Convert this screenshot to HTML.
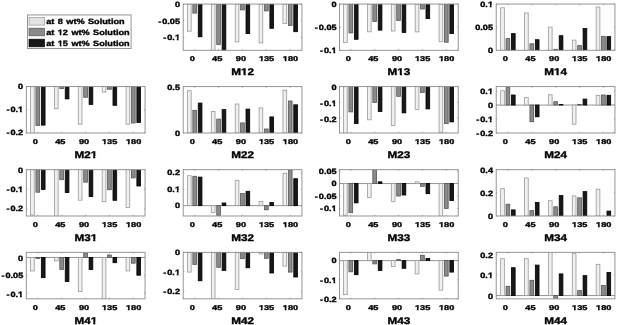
<!DOCTYPE html>
<html><head><meta charset="utf-8"><title>Mueller matrix bar charts</title>
<style>html,body{margin:0;padding:0;background:#fff;width:617px;height:325px;overflow:hidden}svg{display:block;font-family:"Liberation Sans",sans-serif;will-change:transform}</style></head>
<body>
<svg width="617" height="325" viewBox="0 0 617 325" font-family="Liberation Sans, sans-serif" font-weight="bold" text-rendering="geometricPrecision">
<rect width="617" height="325" fill="#fff"/>
<clipPath id="cM12"><rect x="183.2" y="4.05" width="118.75" height="46.25"/></clipPath>
<g clip-path="url(#cM12)">
<rect x="187.45" y="4.05" width="3.7" height="27.15" fill="#f0f0f0" stroke="#999999" stroke-width="0.8"/>
<rect x="192.85" y="4.05" width="3.7" height="9.05" fill="#8a8a8a" stroke="#555555" stroke-width="0.8"/>
<rect x="198.25" y="4.05" width="3.7" height="32.75" fill="#181818" stroke="#000000" stroke-width="0.8"/>
<rect x="211.33" y="4.05" width="3.7" height="94.95" fill="#f0f0f0" stroke="#999999" stroke-width="0.8"/>
<rect x="216.73" y="4.05" width="3.7" height="40.45" fill="#8a8a8a" stroke="#555555" stroke-width="0.8"/>
<rect x="222.13" y="4.05" width="3.7" height="94.95" fill="#181818" stroke="#000000" stroke-width="0.8"/>
<rect x="235.21" y="4.05" width="3.7" height="37.85" fill="#f0f0f0" stroke="#999999" stroke-width="0.8"/>
<rect x="240.61" y="4.05" width="3.7" height="5.85" fill="#8a8a8a" stroke="#555555" stroke-width="0.8"/>
<rect x="246.01" y="4.05" width="3.7" height="29.55" fill="#181818" stroke="#000000" stroke-width="0.8"/>
<rect x="259.09" y="4.05" width="3.7" height="38.85" fill="#f0f0f0" stroke="#999999" stroke-width="0.8"/>
<rect x="264.49" y="4.05" width="3.7" height="6.85" fill="#8a8a8a" stroke="#555555" stroke-width="0.8"/>
<rect x="269.89" y="4.05" width="3.7" height="24.25" fill="#181818" stroke="#000000" stroke-width="0.8"/>
<rect x="282.97" y="4.05" width="3.7" height="19.45" fill="#f0f0f0" stroke="#999999" stroke-width="0.8"/>
<rect x="288.37" y="4.05" width="3.7" height="21.55" fill="#8a8a8a" stroke="#555555" stroke-width="0.8"/>
<rect x="293.77" y="4.05" width="3.7" height="27.65" fill="#181818" stroke="#000000" stroke-width="0.8"/>
</g>
<rect x="183.2" y="4.05" width="118.75" height="46.25" fill="none" stroke="#8a8a8a" stroke-width="0.9"/>
<path d="M194.7 50.3v-1.2M194.7 4.05v1.2" stroke="#8a8a8a" stroke-width="0.7"/>
<path d="M218.58 50.3v-1.2M218.58 4.05v1.2" stroke="#8a8a8a" stroke-width="0.7"/>
<path d="M242.46 50.3v-1.2M242.46 4.05v1.2" stroke="#8a8a8a" stroke-width="0.7"/>
<path d="M266.34 50.3v-1.2M266.34 4.05v1.2" stroke="#8a8a8a" stroke-width="0.7"/>
<path d="M290.22 50.3v-1.2M290.22 4.05v1.2" stroke="#8a8a8a" stroke-width="0.7"/>
<path d="M183.2 4.05h1.2M301.95 4.05h-1.2" stroke="#8a8a8a" stroke-width="0.7"/>
<text transform="translate(180 6.85) scale(1.205 1)" font-size="7.6" text-anchor="end" fill="#000" stroke="#000" stroke-width="0.35">0</text>
<path d="M183.2 20.69h1.2M301.95 20.69h-1.2" stroke="#8a8a8a" stroke-width="0.7"/>
<text transform="translate(180 23.55) scale(1.205 1)" font-size="7.6" text-anchor="end" fill="#000" stroke="#000" stroke-width="0.35">-<tspan dx="0.8">0.05</tspan></text>
<path d="M183.2 37.32h1.2M301.95 37.32h-1.2" stroke="#8a8a8a" stroke-width="0.7"/>
<text transform="translate(180 39.85) scale(1.205 1)" font-size="7.6" text-anchor="end" fill="#000" stroke="#000" stroke-width="0.35">-<tspan dx="0.8">0.1</tspan></text><rect x="174.74" y="38.33" width="2.04" height="2.72" fill="#fff"/><rect x="178.56" y="38.33" width="1.78" height="2.72" fill="#fff"/>
<text transform="translate(192.2 61.3) scale(1.31 1)" font-size="7" text-anchor="middle" fill="#000" stroke="#000" stroke-width="0.35">0</text>
<text transform="translate(217.18 61.3) scale(1.31 1)" font-size="7" text-anchor="middle" fill="#000" stroke="#000" stroke-width="0.35">45</text>
<text transform="translate(240.96 61.3) scale(1.31 1)" font-size="7" text-anchor="middle" fill="#000" stroke="#000" stroke-width="0.35">90</text>
<text transform="translate(266.54 61.3) scale(1.31 1)" font-size="7" text-anchor="middle" fill="#000" stroke="#000" stroke-width="0.35">135</text><rect x="258.71" y="59.84" width="2.05" height="2.64" fill="#fff"/><rect x="262.56" y="59.84" width="1.35" height="2.64" fill="#fff"/>
<text transform="translate(290.52 61.3) scale(1.31 1)" font-size="7" text-anchor="middle" fill="#000" stroke="#000" stroke-width="0.35">180</text><rect x="282.69" y="59.84" width="2.05" height="2.64" fill="#fff"/><rect x="286.54" y="59.84" width="1.44" height="2.64" fill="#fff"/>
<text transform="translate(242.72 75.1) scale(1.21 1)" font-size="9.7" text-anchor="middle" fill="#000" stroke="#000" stroke-width="0.35">M12</text><rect x="241.03" y="73.36" width="2.52" height="3.00" fill="#fff"/><rect x="245.70" y="73.36" width="2.02" height="3.00" fill="#fff"/>
<clipPath id="cM13"><rect x="339.46" y="4.05" width="118.75" height="46.25"/></clipPath>
<g clip-path="url(#cM13)">
<rect x="343.55" y="4.05" width="3.7" height="38.45" fill="#f0f0f0" stroke="#999999" stroke-width="0.8"/>
<rect x="348.95" y="4.05" width="3.7" height="28.85" fill="#8a8a8a" stroke="#555555" stroke-width="0.8"/>
<rect x="354.35" y="4.05" width="3.7" height="35.25" fill="#181818" stroke="#000000" stroke-width="0.8"/>
<rect x="367.43" y="4.05" width="3.7" height="27.75" fill="#f0f0f0" stroke="#999999" stroke-width="0.8"/>
<rect x="372.83" y="4.05" width="3.7" height="17.55" fill="#8a8a8a" stroke="#555555" stroke-width="0.8"/>
<rect x="378.23" y="4.05" width="3.7" height="26.05" fill="#181818" stroke="#000000" stroke-width="0.8"/>
<rect x="391.31" y="4.05" width="3.7" height="26.95" fill="#f0f0f0" stroke="#999999" stroke-width="0.8"/>
<rect x="396.71" y="4.05" width="3.7" height="16.45" fill="#8a8a8a" stroke="#555555" stroke-width="0.8"/>
<rect x="402.11" y="4.05" width="3.7" height="28.35" fill="#181818" stroke="#000000" stroke-width="0.8"/>
<rect x="415.19" y="4.05" width="3.7" height="27.85" fill="#f0f0f0" stroke="#999999" stroke-width="0.8"/>
<rect x="420.59" y="4.05" width="3.7" height="4.95" fill="#8a8a8a" stroke="#555555" stroke-width="0.8"/>
<rect x="425.99" y="4.05" width="3.7" height="14.55" fill="#181818" stroke="#000000" stroke-width="0.8"/>
<rect x="439.07" y="4.05" width="3.7" height="37.65" fill="#f0f0f0" stroke="#999999" stroke-width="0.8"/>
<rect x="444.47" y="4.05" width="3.7" height="38.15" fill="#8a8a8a" stroke="#555555" stroke-width="0.8"/>
<rect x="449.87" y="4.05" width="3.7" height="29.55" fill="#181818" stroke="#000000" stroke-width="0.8"/>
</g>
<rect x="339.46" y="4.05" width="118.75" height="46.25" fill="none" stroke="#8a8a8a" stroke-width="0.9"/>
<path d="M350.8 50.3v-1.2M350.8 4.05v1.2" stroke="#8a8a8a" stroke-width="0.7"/>
<path d="M374.68 50.3v-1.2M374.68 4.05v1.2" stroke="#8a8a8a" stroke-width="0.7"/>
<path d="M398.56 50.3v-1.2M398.56 4.05v1.2" stroke="#8a8a8a" stroke-width="0.7"/>
<path d="M422.44 50.3v-1.2M422.44 4.05v1.2" stroke="#8a8a8a" stroke-width="0.7"/>
<path d="M446.32 50.3v-1.2M446.32 4.05v1.2" stroke="#8a8a8a" stroke-width="0.7"/>
<path d="M339.46 4.05h1.2M458.21 4.05h-1.2" stroke="#8a8a8a" stroke-width="0.7"/>
<text transform="translate(336.66 6.55) scale(1.205 1)" font-size="7.6" text-anchor="end" fill="#000" stroke="#000" stroke-width="0.35">0</text>
<path d="M339.46 27.18h1.2M458.21 27.18h-1.2" stroke="#8a8a8a" stroke-width="0.7"/>
<text transform="translate(336.66 29.85) scale(1.205 1)" font-size="7.6" text-anchor="end" fill="#000" stroke="#000" stroke-width="0.35">-<tspan dx="0.8">0.05</tspan></text>
<path d="M339.46 50.3h1.2M458.21 50.3h-1.2" stroke="#8a8a8a" stroke-width="0.7"/>
<text transform="translate(336.66 53.25) scale(1.205 1)" font-size="7.6" text-anchor="end" fill="#000" stroke="#000" stroke-width="0.35">-<tspan dx="0.8">0.1</tspan></text><rect x="331.40" y="51.73" width="2.04" height="2.72" fill="#fff"/><rect x="335.22" y="51.73" width="1.78" height="2.72" fill="#fff"/>
<text transform="translate(348.3 61.3) scale(1.31 1)" font-size="7" text-anchor="middle" fill="#000" stroke="#000" stroke-width="0.35">0</text>
<text transform="translate(373.28 61.3) scale(1.31 1)" font-size="7" text-anchor="middle" fill="#000" stroke="#000" stroke-width="0.35">45</text>
<text transform="translate(397.06 61.3) scale(1.31 1)" font-size="7" text-anchor="middle" fill="#000" stroke="#000" stroke-width="0.35">90</text>
<text transform="translate(422.64 61.3) scale(1.31 1)" font-size="7" text-anchor="middle" fill="#000" stroke="#000" stroke-width="0.35">135</text><rect x="414.81" y="59.84" width="2.05" height="2.64" fill="#fff"/><rect x="418.66" y="59.84" width="1.35" height="2.64" fill="#fff"/>
<text transform="translate(446.62 61.3) scale(1.31 1)" font-size="7" text-anchor="middle" fill="#000" stroke="#000" stroke-width="0.35">180</text><rect x="438.79" y="59.84" width="2.05" height="2.64" fill="#fff"/><rect x="442.64" y="59.84" width="1.44" height="2.64" fill="#fff"/>
<text transform="translate(398.98 75.1) scale(1.21 1)" font-size="9.7" text-anchor="middle" fill="#000" stroke="#000" stroke-width="0.35">M13</text><rect x="397.29" y="73.36" width="2.52" height="3.00" fill="#fff"/><rect x="401.96" y="73.36" width="1.90" height="3.00" fill="#fff"/>
<clipPath id="cM14"><rect x="496.2" y="4.05" width="118.75" height="46.25"/></clipPath>
<g clip-path="url(#cM14)">
<rect x="500.65" y="7.8" width="3.7" height="42.5" fill="#f0f0f0" stroke="#999999" stroke-width="0.8"/>
<rect x="506.05" y="38.6" width="3.7" height="11.7" fill="#8a8a8a" stroke="#555555" stroke-width="0.8"/>
<rect x="511.45" y="33.6" width="3.7" height="16.7" fill="#181818" stroke="#000000" stroke-width="0.8"/>
<rect x="524.53" y="13" width="3.7" height="37.3" fill="#f0f0f0" stroke="#999999" stroke-width="0.8"/>
<rect x="529.93" y="43.8" width="3.7" height="6.5" fill="#8a8a8a" stroke="#555555" stroke-width="0.8"/>
<rect x="535.33" y="39.7" width="3.7" height="10.6" fill="#181818" stroke="#000000" stroke-width="0.8"/>
<rect x="548.41" y="27.1" width="3.7" height="23.2" fill="#f0f0f0" stroke="#999999" stroke-width="0.8"/>
<rect x="553.81" y="49.3" width="3.7" height="1" fill="#8a8a8a" stroke="#555555" stroke-width="0.8"/>
<rect x="559.21" y="35.7" width="3.7" height="14.6" fill="#181818" stroke="#000000" stroke-width="0.8"/>
<rect x="572.29" y="40.1" width="3.7" height="10.2" fill="#f0f0f0" stroke="#999999" stroke-width="0.8"/>
<rect x="577.69" y="45.6" width="3.7" height="4.7" fill="#8a8a8a" stroke="#555555" stroke-width="0.8"/>
<rect x="583.09" y="28.5" width="3.7" height="21.8" fill="#181818" stroke="#000000" stroke-width="0.8"/>
<rect x="596.17" y="7" width="3.7" height="43.3" fill="#f0f0f0" stroke="#999999" stroke-width="0.8"/>
<rect x="601.57" y="36.3" width="3.7" height="14" fill="#8a8a8a" stroke="#555555" stroke-width="0.8"/>
<rect x="606.97" y="36.6" width="3.7" height="13.7" fill="#181818" stroke="#000000" stroke-width="0.8"/>
</g>
<rect x="496.2" y="4.05" width="118.75" height="46.25" fill="none" stroke="#8a8a8a" stroke-width="0.9"/>
<path d="M507.9 50.3v-1.2M507.9 4.05v1.2" stroke="#8a8a8a" stroke-width="0.7"/>
<path d="M531.78 50.3v-1.2M531.78 4.05v1.2" stroke="#8a8a8a" stroke-width="0.7"/>
<path d="M555.66 50.3v-1.2M555.66 4.05v1.2" stroke="#8a8a8a" stroke-width="0.7"/>
<path d="M579.54 50.3v-1.2M579.54 4.05v1.2" stroke="#8a8a8a" stroke-width="0.7"/>
<path d="M603.42 50.3v-1.2M603.42 4.05v1.2" stroke="#8a8a8a" stroke-width="0.7"/>
<path d="M496.2 4.05h1.2M614.95 4.05h-1.2" stroke="#8a8a8a" stroke-width="0.7"/>
<text transform="translate(493 6.65) scale(1.205 1)" font-size="7.6" text-anchor="end" fill="#000" stroke="#000" stroke-width="0.35">0.1</text><rect x="487.74" y="5.13" width="2.04" height="2.72" fill="#fff"/><rect x="491.56" y="5.13" width="1.78" height="2.72" fill="#fff"/>
<path d="M496.2 27.18h1.2M614.95 27.18h-1.2" stroke="#8a8a8a" stroke-width="0.7"/>
<text transform="translate(493 30.15) scale(1.205 1)" font-size="7.6" text-anchor="end" fill="#000" stroke="#000" stroke-width="0.35">0.05</text>
<path d="M496.2 50.3h1.2M614.95 50.3h-1.2" stroke="#8a8a8a" stroke-width="0.7"/>
<text transform="translate(493 52.65) scale(1.205 1)" font-size="7.6" text-anchor="end" fill="#000" stroke="#000" stroke-width="0.35">0</text>
<text transform="translate(505.4 61.3) scale(1.31 1)" font-size="7" text-anchor="middle" fill="#000" stroke="#000" stroke-width="0.35">0</text>
<text transform="translate(530.38 61.3) scale(1.31 1)" font-size="7" text-anchor="middle" fill="#000" stroke="#000" stroke-width="0.35">45</text>
<text transform="translate(554.16 61.3) scale(1.31 1)" font-size="7" text-anchor="middle" fill="#000" stroke="#000" stroke-width="0.35">90</text>
<text transform="translate(579.74 61.3) scale(1.31 1)" font-size="7" text-anchor="middle" fill="#000" stroke="#000" stroke-width="0.35">135</text><rect x="571.91" y="59.84" width="2.05" height="2.64" fill="#fff"/><rect x="575.76" y="59.84" width="1.35" height="2.64" fill="#fff"/>
<text transform="translate(603.72 61.3) scale(1.31 1)" font-size="7" text-anchor="middle" fill="#000" stroke="#000" stroke-width="0.35">180</text><rect x="595.89" y="59.84" width="2.05" height="2.64" fill="#fff"/><rect x="599.74" y="59.84" width="1.44" height="2.64" fill="#fff"/>
<text transform="translate(555.73 75.1) scale(1.21 1)" font-size="9.7" text-anchor="middle" fill="#000" stroke="#000" stroke-width="0.35">M14</text><rect x="554.03" y="73.36" width="2.52" height="3.00" fill="#fff"/><rect x="558.70" y="73.36" width="1.81" height="3.00" fill="#fff"/>
<clipPath id="cM21"><rect x="26.3" y="86.6" width="118.75" height="46.4"/></clipPath>
<g clip-path="url(#cM21)">
<rect x="30.55" y="86.6" width="3.7" height="48.4" fill="#f0f0f0" stroke="#999999" stroke-width="0.8"/>
<rect x="35.95" y="86.6" width="3.7" height="38.8" fill="#8a8a8a" stroke="#555555" stroke-width="0.8"/>
<rect x="41.35" y="86.6" width="3.7" height="38.5" fill="#181818" stroke="#000000" stroke-width="0.8"/>
<rect x="54.43" y="86.6" width="3.7" height="22.1" fill="#f0f0f0" stroke="#999999" stroke-width="0.8"/>
<rect x="59.83" y="86.6" width="3.7" height="2" fill="#8a8a8a" stroke="#555555" stroke-width="0.8"/>
<rect x="65.23" y="86.6" width="3.7" height="12.3" fill="#181818" stroke="#000000" stroke-width="0.8"/>
<rect x="78.31" y="86.6" width="3.7" height="37.6" fill="#f0f0f0" stroke="#999999" stroke-width="0.8"/>
<rect x="83.71" y="86.6" width="3.7" height="10.7" fill="#8a8a8a" stroke="#555555" stroke-width="0.8"/>
<rect x="89.11" y="86.6" width="3.7" height="17.8" fill="#181818" stroke="#000000" stroke-width="0.8"/>
<rect x="102.19" y="86.6" width="3.7" height="5.4" fill="#f0f0f0" stroke="#999999" stroke-width="0.8"/>
<rect x="107.59" y="86.6" width="3.7" height="2.6" fill="#8a8a8a" stroke="#555555" stroke-width="0.8"/>
<rect x="112.99" y="86.6" width="3.7" height="18.7" fill="#181818" stroke="#000000" stroke-width="0.8"/>
<rect x="126.07" y="86.6" width="3.7" height="37.6" fill="#f0f0f0" stroke="#999999" stroke-width="0.8"/>
<rect x="131.47" y="86.6" width="3.7" height="36.4" fill="#8a8a8a" stroke="#555555" stroke-width="0.8"/>
<rect x="136.87" y="86.6" width="3.7" height="35.9" fill="#181818" stroke="#000000" stroke-width="0.8"/>
</g>
<rect x="26.3" y="86.6" width="118.75" height="46.4" fill="none" stroke="#8a8a8a" stroke-width="0.9"/>
<path d="M37.8 133v-1.2M37.8 86.6v1.2" stroke="#8a8a8a" stroke-width="0.7"/>
<path d="M61.68 133v-1.2M61.68 86.6v1.2" stroke="#8a8a8a" stroke-width="0.7"/>
<path d="M85.56 133v-1.2M85.56 86.6v1.2" stroke="#8a8a8a" stroke-width="0.7"/>
<path d="M109.44 133v-1.2M109.44 86.6v1.2" stroke="#8a8a8a" stroke-width="0.7"/>
<path d="M133.32 133v-1.2M133.32 86.6v1.2" stroke="#8a8a8a" stroke-width="0.7"/>
<path d="M26.3 86.6h1.2M145.05 86.6h-1.2" stroke="#8a8a8a" stroke-width="0.7"/>
<text transform="translate(23.2 89.45) scale(1.205 1)" font-size="7.6" text-anchor="end" fill="#000" stroke="#000" stroke-width="0.35">0</text>
<path d="M26.3 109.8h1.2M145.05 109.8h-1.2" stroke="#8a8a8a" stroke-width="0.7"/>
<text transform="translate(23.2 112.15) scale(1.205 1)" font-size="7.6" text-anchor="end" fill="#000" stroke="#000" stroke-width="0.35">-<tspan dx="0.8">0.1</tspan></text><rect x="17.94" y="110.63" width="2.04" height="2.72" fill="#fff"/><rect x="21.76" y="110.63" width="1.78" height="2.72" fill="#fff"/>
<path d="M26.3 133h1.2M145.05 133h-1.2" stroke="#8a8a8a" stroke-width="0.7"/>
<text transform="translate(23.2 134.65) scale(1.205 1)" font-size="7.6" text-anchor="end" fill="#000" stroke="#000" stroke-width="0.35">-<tspan dx="0.8">0.2</tspan></text>
<text transform="translate(35.3 144) scale(1.31 1)" font-size="7" text-anchor="middle" fill="#000" stroke="#000" stroke-width="0.35">0</text>
<text transform="translate(60.28 144) scale(1.31 1)" font-size="7" text-anchor="middle" fill="#000" stroke="#000" stroke-width="0.35">45</text>
<text transform="translate(84.06 144) scale(1.31 1)" font-size="7" text-anchor="middle" fill="#000" stroke="#000" stroke-width="0.35">90</text>
<text transform="translate(109.64 144) scale(1.31 1)" font-size="7" text-anchor="middle" fill="#000" stroke="#000" stroke-width="0.35">135</text><rect x="101.81" y="142.54" width="2.05" height="2.64" fill="#fff"/><rect x="105.66" y="142.54" width="1.35" height="2.64" fill="#fff"/>
<text transform="translate(133.62 144) scale(1.31 1)" font-size="7" text-anchor="middle" fill="#000" stroke="#000" stroke-width="0.35">180</text><rect x="125.79" y="142.54" width="2.05" height="2.64" fill="#fff"/><rect x="129.64" y="142.54" width="1.44" height="2.64" fill="#fff"/>
<text transform="translate(85.83 157.8) scale(1.21 1)" font-size="9.7" text-anchor="middle" fill="#000" stroke="#000" stroke-width="0.35">M21</text><rect x="90.66" y="156.06" width="2.52" height="3.00" fill="#fff"/><rect x="95.33" y="156.06" width="2.22" height="3.00" fill="#fff"/>
<clipPath id="cM22"><rect x="183.2" y="86.6" width="118.75" height="46.4"/></clipPath>
<g clip-path="url(#cM22)">
<rect x="187.45" y="90.7" width="3.7" height="42.3" fill="#f0f0f0" stroke="#999999" stroke-width="0.8"/>
<rect x="192.85" y="110.3" width="3.7" height="22.7" fill="#8a8a8a" stroke="#555555" stroke-width="0.8"/>
<rect x="198.25" y="103.1" width="3.7" height="29.9" fill="#181818" stroke="#000000" stroke-width="0.8"/>
<rect x="211.33" y="111.4" width="3.7" height="21.6" fill="#f0f0f0" stroke="#999999" stroke-width="0.8"/>
<rect x="216.73" y="119.1" width="3.7" height="13.9" fill="#8a8a8a" stroke="#555555" stroke-width="0.8"/>
<rect x="222.13" y="109.6" width="3.7" height="23.4" fill="#181818" stroke="#000000" stroke-width="0.8"/>
<rect x="235.21" y="104" width="3.7" height="29" fill="#f0f0f0" stroke="#999999" stroke-width="0.8"/>
<rect x="240.61" y="122.9" width="3.7" height="10.1" fill="#8a8a8a" stroke="#555555" stroke-width="0.8"/>
<rect x="246.01" y="109.1" width="3.7" height="23.9" fill="#181818" stroke="#000000" stroke-width="0.8"/>
<rect x="259.09" y="107.9" width="3.7" height="25.1" fill="#f0f0f0" stroke="#999999" stroke-width="0.8"/>
<rect x="264.49" y="129" width="3.7" height="4" fill="#8a8a8a" stroke="#555555" stroke-width="0.8"/>
<rect x="269.89" y="116.9" width="3.7" height="16.1" fill="#181818" stroke="#000000" stroke-width="0.8"/>
<rect x="282.97" y="90.2" width="3.7" height="42.8" fill="#f0f0f0" stroke="#999999" stroke-width="0.8"/>
<rect x="288.37" y="101" width="3.7" height="32" fill="#8a8a8a" stroke="#555555" stroke-width="0.8"/>
<rect x="293.77" y="104.8" width="3.7" height="28.2" fill="#181818" stroke="#000000" stroke-width="0.8"/>
</g>
<rect x="183.2" y="86.6" width="118.75" height="46.4" fill="none" stroke="#8a8a8a" stroke-width="0.9"/>
<path d="M194.7 133v-1.2M194.7 86.6v1.2" stroke="#8a8a8a" stroke-width="0.7"/>
<path d="M218.58 133v-1.2M218.58 86.6v1.2" stroke="#8a8a8a" stroke-width="0.7"/>
<path d="M242.46 133v-1.2M242.46 86.6v1.2" stroke="#8a8a8a" stroke-width="0.7"/>
<path d="M266.34 133v-1.2M266.34 86.6v1.2" stroke="#8a8a8a" stroke-width="0.7"/>
<path d="M290.22 133v-1.2M290.22 86.6v1.2" stroke="#8a8a8a" stroke-width="0.7"/>
<path d="M183.2 86.6h1.2M301.95 86.6h-1.2" stroke="#8a8a8a" stroke-width="0.7"/>
<text transform="translate(180 89.65) scale(1.205 1)" font-size="7.6" text-anchor="end" fill="#000" stroke="#000" stroke-width="0.35">0.5</text>
<path d="M183.2 133h1.2M301.95 133h-1.2" stroke="#8a8a8a" stroke-width="0.7"/>
<text transform="translate(180 135.85) scale(1.205 1)" font-size="7.6" text-anchor="end" fill="#000" stroke="#000" stroke-width="0.35">0</text>
<text transform="translate(192.2 144) scale(1.31 1)" font-size="7" text-anchor="middle" fill="#000" stroke="#000" stroke-width="0.35">0</text>
<text transform="translate(217.18 144) scale(1.31 1)" font-size="7" text-anchor="middle" fill="#000" stroke="#000" stroke-width="0.35">45</text>
<text transform="translate(240.96 144) scale(1.31 1)" font-size="7" text-anchor="middle" fill="#000" stroke="#000" stroke-width="0.35">90</text>
<text transform="translate(266.54 144) scale(1.31 1)" font-size="7" text-anchor="middle" fill="#000" stroke="#000" stroke-width="0.35">135</text><rect x="258.71" y="142.54" width="2.05" height="2.64" fill="#fff"/><rect x="262.56" y="142.54" width="1.35" height="2.64" fill="#fff"/>
<text transform="translate(290.52 144) scale(1.31 1)" font-size="7" text-anchor="middle" fill="#000" stroke="#000" stroke-width="0.35">180</text><rect x="282.69" y="142.54" width="2.05" height="2.64" fill="#fff"/><rect x="286.54" y="142.54" width="1.44" height="2.64" fill="#fff"/>
<text transform="translate(242.72 157.8) scale(1.21 1)" font-size="9.7" text-anchor="middle" fill="#000" stroke="#000" stroke-width="0.35">M22</text>
<clipPath id="cM23"><rect x="339.46" y="86.6" width="118.75" height="46.4"/></clipPath>
<g clip-path="url(#cM23)">
<rect x="343.55" y="86.6" width="3.7" height="48.6" fill="#f0f0f0" stroke="#999999" stroke-width="0.8"/>
<rect x="348.95" y="86.6" width="3.7" height="25.3" fill="#8a8a8a" stroke="#555555" stroke-width="0.8"/>
<rect x="354.35" y="86.6" width="3.7" height="37" fill="#181818" stroke="#000000" stroke-width="0.8"/>
<rect x="367.43" y="86.6" width="3.7" height="33.2" fill="#f0f0f0" stroke="#999999" stroke-width="0.8"/>
<rect x="372.83" y="86.6" width="3.7" height="15.9" fill="#8a8a8a" stroke="#555555" stroke-width="0.8"/>
<rect x="378.23" y="86.6" width="3.7" height="24.9" fill="#181818" stroke="#000000" stroke-width="0.8"/>
<rect x="391.31" y="86.6" width="3.7" height="39" fill="#f0f0f0" stroke="#999999" stroke-width="0.8"/>
<rect x="396.71" y="86.6" width="3.7" height="9.7" fill="#8a8a8a" stroke="#555555" stroke-width="0.8"/>
<rect x="402.11" y="86.6" width="3.7" height="26.3" fill="#181818" stroke="#000000" stroke-width="0.8"/>
<rect x="415.19" y="86.6" width="3.7" height="22.8" fill="#f0f0f0" stroke="#999999" stroke-width="0.8"/>
<rect x="420.59" y="86.6" width="3.7" height="5.9" fill="#8a8a8a" stroke="#555555" stroke-width="0.8"/>
<rect x="425.99" y="86.6" width="3.7" height="22.3" fill="#181818" stroke="#000000" stroke-width="0.8"/>
<rect x="439.07" y="86.6" width="3.7" height="45.6" fill="#f0f0f0" stroke="#999999" stroke-width="0.8"/>
<rect x="444.47" y="86.6" width="3.7" height="37" fill="#8a8a8a" stroke="#555555" stroke-width="0.8"/>
<rect x="449.87" y="86.6" width="3.7" height="35.3" fill="#181818" stroke="#000000" stroke-width="0.8"/>
</g>
<rect x="339.46" y="86.6" width="118.75" height="46.4" fill="none" stroke="#8a8a8a" stroke-width="0.9"/>
<path d="M350.8 133v-1.2M350.8 86.6v1.2" stroke="#8a8a8a" stroke-width="0.7"/>
<path d="M374.68 133v-1.2M374.68 86.6v1.2" stroke="#8a8a8a" stroke-width="0.7"/>
<path d="M398.56 133v-1.2M398.56 86.6v1.2" stroke="#8a8a8a" stroke-width="0.7"/>
<path d="M422.44 133v-1.2M422.44 86.6v1.2" stroke="#8a8a8a" stroke-width="0.7"/>
<path d="M446.32 133v-1.2M446.32 86.6v1.2" stroke="#8a8a8a" stroke-width="0.7"/>
<path d="M339.46 86.6h1.2M458.21 86.6h-1.2" stroke="#8a8a8a" stroke-width="0.7"/>
<text transform="translate(336.66 89.65) scale(1.205 1)" font-size="7.6" text-anchor="end" fill="#000" stroke="#000" stroke-width="0.35">0</text>
<path d="M339.46 102.34h1.2M458.21 102.34h-1.2" stroke="#8a8a8a" stroke-width="0.7"/>
<text transform="translate(336.66 105.75) scale(1.205 1)" font-size="7.6" text-anchor="end" fill="#000" stroke="#000" stroke-width="0.35">-<tspan dx="0.8">0.1</tspan></text><rect x="331.40" y="104.23" width="2.04" height="2.72" fill="#fff"/><rect x="335.22" y="104.23" width="1.78" height="2.72" fill="#fff"/>
<path d="M339.46 118.09h1.2M458.21 118.09h-1.2" stroke="#8a8a8a" stroke-width="0.7"/>
<text transform="translate(336.66 121.65) scale(1.205 1)" font-size="7.6" text-anchor="end" fill="#000" stroke="#000" stroke-width="0.35">-<tspan dx="0.8">0.2</tspan></text>
<text transform="translate(348.3 144) scale(1.31 1)" font-size="7" text-anchor="middle" fill="#000" stroke="#000" stroke-width="0.35">0</text>
<text transform="translate(373.28 144) scale(1.31 1)" font-size="7" text-anchor="middle" fill="#000" stroke="#000" stroke-width="0.35">45</text>
<text transform="translate(397.06 144) scale(1.31 1)" font-size="7" text-anchor="middle" fill="#000" stroke="#000" stroke-width="0.35">90</text>
<text transform="translate(422.64 144) scale(1.31 1)" font-size="7" text-anchor="middle" fill="#000" stroke="#000" stroke-width="0.35">135</text><rect x="414.81" y="142.54" width="2.05" height="2.64" fill="#fff"/><rect x="418.66" y="142.54" width="1.35" height="2.64" fill="#fff"/>
<text transform="translate(446.62 144) scale(1.31 1)" font-size="7" text-anchor="middle" fill="#000" stroke="#000" stroke-width="0.35">180</text><rect x="438.79" y="142.54" width="2.05" height="2.64" fill="#fff"/><rect x="442.64" y="142.54" width="1.44" height="2.64" fill="#fff"/>
<text transform="translate(398.98 157.8) scale(1.21 1)" font-size="9.7" text-anchor="middle" fill="#000" stroke="#000" stroke-width="0.35">M23</text>
<clipPath id="cM24"><rect x="496.2" y="86.6" width="118.75" height="46.4"/></clipPath>
<g clip-path="url(#cM24)">
<line x1="496.2" y1="105.04" x2="614.95" y2="105.04" stroke="#8a8a8a" stroke-width="0.9"/>
<rect x="500.65" y="90.7" width="3.7" height="14.34" fill="#f0f0f0" stroke="#999999" stroke-width="0.8"/>
<rect x="506.05" y="87.6" width="3.7" height="17.44" fill="#8a8a8a" stroke="#555555" stroke-width="0.8"/>
<rect x="511.45" y="95" width="3.7" height="10.04" fill="#181818" stroke="#000000" stroke-width="0.8"/>
<rect x="524.53" y="97.6" width="3.7" height="7.44" fill="#f0f0f0" stroke="#999999" stroke-width="0.8"/>
<rect x="529.93" y="105.04" width="3.7" height="16.66" fill="#8a8a8a" stroke="#555555" stroke-width="0.8"/>
<rect x="535.33" y="105.04" width="3.7" height="11.76" fill="#181818" stroke="#000000" stroke-width="0.8"/>
<rect x="548.41" y="94.8" width="3.7" height="10.24" fill="#f0f0f0" stroke="#999999" stroke-width="0.8"/>
<rect x="553.81" y="101.7" width="3.7" height="3.34" fill="#8a8a8a" stroke="#555555" stroke-width="0.8"/>
<rect x="559.21" y="104.5" width="3.7" height="0.54" fill="#181818" stroke="#000000" stroke-width="0.8"/>
<rect x="572.29" y="105.04" width="3.7" height="19.16" fill="#f0f0f0" stroke="#999999" stroke-width="0.8"/>
<rect x="577.69" y="104.5" width="3.7" height="0.54" fill="#8a8a8a" stroke="#555555" stroke-width="0.8"/>
<rect x="583.09" y="99.1" width="3.7" height="5.94" fill="#181818" stroke="#000000" stroke-width="0.8"/>
<rect x="596.17" y="95.3" width="3.7" height="9.74" fill="#f0f0f0" stroke="#999999" stroke-width="0.8"/>
<rect x="601.57" y="95" width="3.7" height="10.04" fill="#8a8a8a" stroke="#555555" stroke-width="0.8"/>
<rect x="606.97" y="95.3" width="3.7" height="9.74" fill="#181818" stroke="#000000" stroke-width="0.8"/>
</g>
<rect x="496.2" y="86.6" width="118.75" height="46.4" fill="none" stroke="#8a8a8a" stroke-width="0.9"/>
<path d="M507.9 133v-1.2M507.9 86.6v1.2" stroke="#8a8a8a" stroke-width="0.7"/>
<path d="M531.78 133v-1.2M531.78 86.6v1.2" stroke="#8a8a8a" stroke-width="0.7"/>
<path d="M555.66 133v-1.2M555.66 86.6v1.2" stroke="#8a8a8a" stroke-width="0.7"/>
<path d="M579.54 133v-1.2M579.54 86.6v1.2" stroke="#8a8a8a" stroke-width="0.7"/>
<path d="M603.42 133v-1.2M603.42 86.6v1.2" stroke="#8a8a8a" stroke-width="0.7"/>
<path d="M496.2 91.07h1.2M614.95 91.07h-1.2" stroke="#8a8a8a" stroke-width="0.7"/>
<text transform="translate(493 93.95) scale(1.205 1)" font-size="7.6" text-anchor="end" fill="#000" stroke="#000" stroke-width="0.35">0.1</text><rect x="487.74" y="92.43" width="2.04" height="2.72" fill="#fff"/><rect x="491.56" y="92.43" width="1.78" height="2.72" fill="#fff"/>
<path d="M496.2 105.04h1.2M614.95 105.04h-1.2" stroke="#8a8a8a" stroke-width="0.7"/>
<text transform="translate(493 107.75) scale(1.205 1)" font-size="7.6" text-anchor="end" fill="#000" stroke="#000" stroke-width="0.35">0</text>
<path d="M496.2 119h1.2M614.95 119h-1.2" stroke="#8a8a8a" stroke-width="0.7"/>
<text transform="translate(493 121.55) scale(1.205 1)" font-size="7.6" text-anchor="end" fill="#000" stroke="#000" stroke-width="0.35">-<tspan dx="0.8">0.1</tspan></text><rect x="487.74" y="120.03" width="2.04" height="2.72" fill="#fff"/><rect x="491.56" y="120.03" width="1.78" height="2.72" fill="#fff"/>
<path d="M496.2 132.97h1.2M614.95 132.97h-1.2" stroke="#8a8a8a" stroke-width="0.7"/>
<text transform="translate(493 135.85) scale(1.205 1)" font-size="7.6" text-anchor="end" fill="#000" stroke="#000" stroke-width="0.35">-<tspan dx="0.8">0.2</tspan></text>
<text transform="translate(505.4 144) scale(1.31 1)" font-size="7" text-anchor="middle" fill="#000" stroke="#000" stroke-width="0.35">0</text>
<text transform="translate(530.38 144) scale(1.31 1)" font-size="7" text-anchor="middle" fill="#000" stroke="#000" stroke-width="0.35">45</text>
<text transform="translate(554.16 144) scale(1.31 1)" font-size="7" text-anchor="middle" fill="#000" stroke="#000" stroke-width="0.35">90</text>
<text transform="translate(579.74 144) scale(1.31 1)" font-size="7" text-anchor="middle" fill="#000" stroke="#000" stroke-width="0.35">135</text><rect x="571.91" y="142.54" width="2.05" height="2.64" fill="#fff"/><rect x="575.76" y="142.54" width="1.35" height="2.64" fill="#fff"/>
<text transform="translate(603.72 144) scale(1.31 1)" font-size="7" text-anchor="middle" fill="#000" stroke="#000" stroke-width="0.35">180</text><rect x="595.89" y="142.54" width="2.05" height="2.64" fill="#fff"/><rect x="599.74" y="142.54" width="1.44" height="2.64" fill="#fff"/>
<text transform="translate(555.73 157.8) scale(1.21 1)" font-size="9.7" text-anchor="middle" fill="#000" stroke="#000" stroke-width="0.35">M24</text>
<clipPath id="cM31"><rect x="26.3" y="169.68" width="118.75" height="46.32"/></clipPath>
<g clip-path="url(#cM31)">
<rect x="30.55" y="169.68" width="3.7" height="45.32" fill="#f0f0f0" stroke="#999999" stroke-width="0.8"/>
<rect x="35.95" y="169.68" width="3.7" height="22.52" fill="#8a8a8a" stroke="#555555" stroke-width="0.8"/>
<rect x="41.35" y="169.68" width="3.7" height="19.82" fill="#181818" stroke="#000000" stroke-width="0.8"/>
<rect x="54.43" y="169.68" width="3.7" height="48.32" fill="#f0f0f0" stroke="#999999" stroke-width="0.8"/>
<rect x="59.83" y="169.68" width="3.7" height="10.02" fill="#8a8a8a" stroke="#555555" stroke-width="0.8"/>
<rect x="65.23" y="169.68" width="3.7" height="22.92" fill="#181818" stroke="#000000" stroke-width="0.8"/>
<rect x="78.31" y="169.68" width="3.7" height="30.52" fill="#f0f0f0" stroke="#999999" stroke-width="0.8"/>
<rect x="83.71" y="169.68" width="3.7" height="12.52" fill="#8a8a8a" stroke="#555555" stroke-width="0.8"/>
<rect x="89.11" y="169.68" width="3.7" height="26.92" fill="#181818" stroke="#000000" stroke-width="0.8"/>
<rect x="102.19" y="169.68" width="3.7" height="32.02" fill="#f0f0f0" stroke="#999999" stroke-width="0.8"/>
<rect x="107.59" y="169.68" width="3.7" height="20.02" fill="#8a8a8a" stroke="#555555" stroke-width="0.8"/>
<rect x="112.99" y="169.68" width="3.7" height="30.62" fill="#181818" stroke="#000000" stroke-width="0.8"/>
<rect x="126.07" y="169.68" width="3.7" height="37.92" fill="#f0f0f0" stroke="#999999" stroke-width="0.8"/>
<rect x="131.47" y="169.68" width="3.7" height="8.22" fill="#8a8a8a" stroke="#555555" stroke-width="0.8"/>
<rect x="136.87" y="169.68" width="3.7" height="16.32" fill="#181818" stroke="#000000" stroke-width="0.8"/>
</g>
<rect x="26.3" y="169.68" width="118.75" height="46.32" fill="none" stroke="#8a8a8a" stroke-width="0.9"/>
<path d="M37.8 216v-1.2M37.8 169.68v1.2" stroke="#8a8a8a" stroke-width="0.7"/>
<path d="M61.68 216v-1.2M61.68 169.68v1.2" stroke="#8a8a8a" stroke-width="0.7"/>
<path d="M85.56 216v-1.2M85.56 169.68v1.2" stroke="#8a8a8a" stroke-width="0.7"/>
<path d="M109.44 216v-1.2M109.44 169.68v1.2" stroke="#8a8a8a" stroke-width="0.7"/>
<path d="M133.32 216v-1.2M133.32 169.68v1.2" stroke="#8a8a8a" stroke-width="0.7"/>
<path d="M26.3 169.68h1.2M145.05 169.68h-1.2" stroke="#8a8a8a" stroke-width="0.7"/>
<text transform="translate(23.2 172.65) scale(1.205 1)" font-size="7.6" text-anchor="end" fill="#000" stroke="#000" stroke-width="0.35">0</text>
<path d="M26.3 189.31h1.2M145.05 189.31h-1.2" stroke="#8a8a8a" stroke-width="0.7"/>
<text transform="translate(23.2 191.95) scale(1.205 1)" font-size="7.6" text-anchor="end" fill="#000" stroke="#000" stroke-width="0.35">-<tspan dx="0.8">0.1</tspan></text><rect x="17.94" y="190.43" width="2.04" height="2.72" fill="#fff"/><rect x="21.76" y="190.43" width="1.78" height="2.72" fill="#fff"/>
<path d="M26.3 208.93h1.2M145.05 208.93h-1.2" stroke="#8a8a8a" stroke-width="0.7"/>
<text transform="translate(23.2 211.45) scale(1.205 1)" font-size="7.6" text-anchor="end" fill="#000" stroke="#000" stroke-width="0.35">-<tspan dx="0.8">0.2</tspan></text>
<text transform="translate(35.3 227) scale(1.31 1)" font-size="7" text-anchor="middle" fill="#000" stroke="#000" stroke-width="0.35">0</text>
<text transform="translate(60.28 227) scale(1.31 1)" font-size="7" text-anchor="middle" fill="#000" stroke="#000" stroke-width="0.35">45</text>
<text transform="translate(84.06 227) scale(1.31 1)" font-size="7" text-anchor="middle" fill="#000" stroke="#000" stroke-width="0.35">90</text>
<text transform="translate(109.64 227) scale(1.31 1)" font-size="7" text-anchor="middle" fill="#000" stroke="#000" stroke-width="0.35">135</text><rect x="101.81" y="225.54" width="2.05" height="2.64" fill="#fff"/><rect x="105.66" y="225.54" width="1.35" height="2.64" fill="#fff"/>
<text transform="translate(133.62 227) scale(1.31 1)" font-size="7" text-anchor="middle" fill="#000" stroke="#000" stroke-width="0.35">180</text><rect x="125.79" y="225.54" width="2.05" height="2.64" fill="#fff"/><rect x="129.64" y="225.54" width="1.44" height="2.64" fill="#fff"/>
<text transform="translate(85.83 240.8) scale(1.21 1)" font-size="9.7" text-anchor="middle" fill="#000" stroke="#000" stroke-width="0.35">M31</text><rect x="90.66" y="239.06" width="2.52" height="3.00" fill="#fff"/><rect x="95.33" y="239.06" width="2.22" height="3.00" fill="#fff"/>
<clipPath id="cM32"><rect x="183.2" y="169.68" width="118.75" height="46.32"/></clipPath>
<g clip-path="url(#cM32)">
<line x1="183.2" y1="205.64" x2="301.95" y2="205.64" stroke="#8a8a8a" stroke-width="0.9"/>
<rect x="187.45" y="175.7" width="3.7" height="29.94" fill="#f0f0f0" stroke="#999999" stroke-width="0.8"/>
<rect x="192.85" y="176.3" width="3.7" height="29.34" fill="#8a8a8a" stroke="#555555" stroke-width="0.8"/>
<rect x="198.25" y="177.1" width="3.7" height="28.54" fill="#181818" stroke="#000000" stroke-width="0.8"/>
<rect x="211.33" y="205.64" width="3.7" height="6.76" fill="#f0f0f0" stroke="#999999" stroke-width="0.8"/>
<rect x="216.73" y="205.64" width="3.7" height="9.66" fill="#8a8a8a" stroke="#555555" stroke-width="0.8"/>
<rect x="222.13" y="203" width="3.7" height="2.64" fill="#181818" stroke="#000000" stroke-width="0.8"/>
<rect x="235.21" y="180.6" width="3.7" height="25.04" fill="#f0f0f0" stroke="#999999" stroke-width="0.8"/>
<rect x="240.61" y="193.5" width="3.7" height="12.14" fill="#8a8a8a" stroke="#555555" stroke-width="0.8"/>
<rect x="246.01" y="191.3" width="3.7" height="14.34" fill="#181818" stroke="#000000" stroke-width="0.8"/>
<rect x="259.09" y="201.6" width="3.7" height="4.04" fill="#f0f0f0" stroke="#999999" stroke-width="0.8"/>
<rect x="264.49" y="205.64" width="3.7" height="4.16" fill="#8a8a8a" stroke="#555555" stroke-width="0.8"/>
<rect x="269.89" y="202.5" width="3.7" height="3.14" fill="#181818" stroke="#000000" stroke-width="0.8"/>
<rect x="282.97" y="173.2" width="3.7" height="32.44" fill="#f0f0f0" stroke="#999999" stroke-width="0.8"/>
<rect x="288.37" y="170.2" width="3.7" height="35.44" fill="#8a8a8a" stroke="#555555" stroke-width="0.8"/>
<rect x="293.77" y="178.7" width="3.7" height="26.94" fill="#181818" stroke="#000000" stroke-width="0.8"/>
</g>
<rect x="183.2" y="169.68" width="118.75" height="46.32" fill="none" stroke="#8a8a8a" stroke-width="0.9"/>
<path d="M194.7 216v-1.2M194.7 169.68v1.2" stroke="#8a8a8a" stroke-width="0.7"/>
<path d="M218.58 216v-1.2M218.58 169.68v1.2" stroke="#8a8a8a" stroke-width="0.7"/>
<path d="M242.46 216v-1.2M242.46 169.68v1.2" stroke="#8a8a8a" stroke-width="0.7"/>
<path d="M266.34 216v-1.2M266.34 169.68v1.2" stroke="#8a8a8a" stroke-width="0.7"/>
<path d="M290.22 216v-1.2M290.22 169.68v1.2" stroke="#8a8a8a" stroke-width="0.7"/>
<path d="M183.2 173.16h1.2M301.95 173.16h-1.2" stroke="#8a8a8a" stroke-width="0.7"/>
<text transform="translate(180 175.25) scale(1.205 1)" font-size="7.6" text-anchor="end" fill="#000" stroke="#000" stroke-width="0.35">0.2</text>
<path d="M183.2 189.4h1.2M301.95 189.4h-1.2" stroke="#8a8a8a" stroke-width="0.7"/>
<text transform="translate(180 191.55) scale(1.205 1)" font-size="7.6" text-anchor="end" fill="#000" stroke="#000" stroke-width="0.35">0.1</text><rect x="174.74" y="190.03" width="2.04" height="2.72" fill="#fff"/><rect x="178.56" y="190.03" width="1.78" height="2.72" fill="#fff"/>
<path d="M183.2 205.64h1.2M301.95 205.64h-1.2" stroke="#8a8a8a" stroke-width="0.7"/>
<text transform="translate(180 208.35) scale(1.205 1)" font-size="7.6" text-anchor="end" fill="#000" stroke="#000" stroke-width="0.35">0</text>
<text transform="translate(192.2 227) scale(1.31 1)" font-size="7" text-anchor="middle" fill="#000" stroke="#000" stroke-width="0.35">0</text>
<text transform="translate(217.18 227) scale(1.31 1)" font-size="7" text-anchor="middle" fill="#000" stroke="#000" stroke-width="0.35">45</text>
<text transform="translate(240.96 227) scale(1.31 1)" font-size="7" text-anchor="middle" fill="#000" stroke="#000" stroke-width="0.35">90</text>
<text transform="translate(266.54 227) scale(1.31 1)" font-size="7" text-anchor="middle" fill="#000" stroke="#000" stroke-width="0.35">135</text><rect x="258.71" y="225.54" width="2.05" height="2.64" fill="#fff"/><rect x="262.56" y="225.54" width="1.35" height="2.64" fill="#fff"/>
<text transform="translate(290.52 227) scale(1.31 1)" font-size="7" text-anchor="middle" fill="#000" stroke="#000" stroke-width="0.35">180</text><rect x="282.69" y="225.54" width="2.05" height="2.64" fill="#fff"/><rect x="286.54" y="225.54" width="1.44" height="2.64" fill="#fff"/>
<text transform="translate(242.72 240.8) scale(1.21 1)" font-size="9.7" text-anchor="middle" fill="#000" stroke="#000" stroke-width="0.35">M32</text>
<clipPath id="cM33"><rect x="339.46" y="169.68" width="118.75" height="46.32"/></clipPath>
<g clip-path="url(#cM33)">
<line x1="339.46" y1="183.55" x2="458.21" y2="183.55" stroke="#8a8a8a" stroke-width="0.9"/>
<rect x="343.55" y="183.55" width="3.7" height="31.75" fill="#f0f0f0" stroke="#999999" stroke-width="0.8"/>
<rect x="348.95" y="183.55" width="3.7" height="29.15" fill="#8a8a8a" stroke="#555555" stroke-width="0.8"/>
<rect x="354.35" y="183.55" width="3.7" height="19.35" fill="#181818" stroke="#000000" stroke-width="0.8"/>
<rect x="367.43" y="183.55" width="3.7" height="13.95" fill="#f0f0f0" stroke="#999999" stroke-width="0.8"/>
<rect x="372.83" y="170.2" width="3.7" height="13.35" fill="#8a8a8a" stroke="#555555" stroke-width="0.8"/>
<rect x="378.23" y="181.8" width="3.7" height="1.75" fill="#181818" stroke="#000000" stroke-width="0.8"/>
<rect x="391.31" y="183.55" width="3.7" height="17.95" fill="#f0f0f0" stroke="#999999" stroke-width="0.8"/>
<rect x="396.71" y="183.55" width="3.7" height="12.45" fill="#8a8a8a" stroke="#555555" stroke-width="0.8"/>
<rect x="402.11" y="183.55" width="3.7" height="11.45" fill="#181818" stroke="#000000" stroke-width="0.8"/>
<rect x="415.19" y="181.8" width="3.7" height="1.75" fill="#f0f0f0" stroke="#999999" stroke-width="0.8"/>
<rect x="420.59" y="183.55" width="3.7" height="2.75" fill="#8a8a8a" stroke="#555555" stroke-width="0.8"/>
<rect x="425.99" y="183.55" width="3.7" height="10.15" fill="#181818" stroke="#000000" stroke-width="0.8"/>
<rect x="439.07" y="183.55" width="3.7" height="34.75" fill="#f0f0f0" stroke="#999999" stroke-width="0.8"/>
<rect x="444.47" y="183.55" width="3.7" height="24.85" fill="#8a8a8a" stroke="#555555" stroke-width="0.8"/>
<rect x="449.87" y="183.55" width="3.7" height="17.05" fill="#181818" stroke="#000000" stroke-width="0.8"/>
</g>
<rect x="339.46" y="169.68" width="118.75" height="46.32" fill="none" stroke="#8a8a8a" stroke-width="0.9"/>
<path d="M350.8 216v-1.2M350.8 169.68v1.2" stroke="#8a8a8a" stroke-width="0.7"/>
<path d="M374.68 216v-1.2M374.68 169.68v1.2" stroke="#8a8a8a" stroke-width="0.7"/>
<path d="M398.56 216v-1.2M398.56 169.68v1.2" stroke="#8a8a8a" stroke-width="0.7"/>
<path d="M422.44 216v-1.2M422.44 169.68v1.2" stroke="#8a8a8a" stroke-width="0.7"/>
<path d="M446.32 216v-1.2M446.32 169.68v1.2" stroke="#8a8a8a" stroke-width="0.7"/>
<path d="M339.46 171.17h1.2M458.21 171.17h-1.2" stroke="#8a8a8a" stroke-width="0.7"/>
<text transform="translate(336.66 174.05) scale(1.205 1)" font-size="7.6" text-anchor="end" fill="#000" stroke="#000" stroke-width="0.35">0.05</text>
<path d="M339.46 183.55h1.2M458.21 183.55h-1.2" stroke="#8a8a8a" stroke-width="0.7"/>
<text transform="translate(336.66 186.05) scale(1.205 1)" font-size="7.6" text-anchor="end" fill="#000" stroke="#000" stroke-width="0.35">0</text>
<path d="M339.46 195.94h1.2M458.21 195.94h-1.2" stroke="#8a8a8a" stroke-width="0.7"/>
<text transform="translate(336.66 198.85) scale(1.205 1)" font-size="7.6" text-anchor="end" fill="#000" stroke="#000" stroke-width="0.35">-<tspan dx="0.8">0.05</tspan></text>
<path d="M339.46 208.32h1.2M458.21 208.32h-1.2" stroke="#8a8a8a" stroke-width="0.7"/>
<text transform="translate(336.66 211.45) scale(1.205 1)" font-size="7.6" text-anchor="end" fill="#000" stroke="#000" stroke-width="0.35">-<tspan dx="0.8">0.1</tspan></text><rect x="331.40" y="209.93" width="2.04" height="2.72" fill="#fff"/><rect x="335.22" y="209.93" width="1.78" height="2.72" fill="#fff"/>
<text transform="translate(348.3 227) scale(1.31 1)" font-size="7" text-anchor="middle" fill="#000" stroke="#000" stroke-width="0.35">0</text>
<text transform="translate(373.28 227) scale(1.31 1)" font-size="7" text-anchor="middle" fill="#000" stroke="#000" stroke-width="0.35">45</text>
<text transform="translate(397.06 227) scale(1.31 1)" font-size="7" text-anchor="middle" fill="#000" stroke="#000" stroke-width="0.35">90</text>
<text transform="translate(422.64 227) scale(1.31 1)" font-size="7" text-anchor="middle" fill="#000" stroke="#000" stroke-width="0.35">135</text><rect x="414.81" y="225.54" width="2.05" height="2.64" fill="#fff"/><rect x="418.66" y="225.54" width="1.35" height="2.64" fill="#fff"/>
<text transform="translate(446.62 227) scale(1.31 1)" font-size="7" text-anchor="middle" fill="#000" stroke="#000" stroke-width="0.35">180</text><rect x="438.79" y="225.54" width="2.05" height="2.64" fill="#fff"/><rect x="442.64" y="225.54" width="1.44" height="2.64" fill="#fff"/>
<text transform="translate(398.98 240.8) scale(1.21 1)" font-size="9.7" text-anchor="middle" fill="#000" stroke="#000" stroke-width="0.35">M33</text>
<clipPath id="cM34"><rect x="496.2" y="169.68" width="118.75" height="46.32"/></clipPath>
<g clip-path="url(#cM34)">
<rect x="500.65" y="188.7" width="3.7" height="27.3" fill="#f0f0f0" stroke="#999999" stroke-width="0.8"/>
<rect x="506.05" y="204.2" width="3.7" height="11.8" fill="#8a8a8a" stroke="#555555" stroke-width="0.8"/>
<rect x="511.45" y="209.9" width="3.7" height="6.1" fill="#181818" stroke="#000000" stroke-width="0.8"/>
<rect x="524.53" y="178" width="3.7" height="38" fill="#f0f0f0" stroke="#999999" stroke-width="0.8"/>
<rect x="529.93" y="210.6" width="3.7" height="5.4" fill="#8a8a8a" stroke="#555555" stroke-width="0.8"/>
<rect x="535.33" y="202.5" width="3.7" height="13.5" fill="#181818" stroke="#000000" stroke-width="0.8"/>
<rect x="548.41" y="200.7" width="3.7" height="15.3" fill="#f0f0f0" stroke="#999999" stroke-width="0.8"/>
<rect x="553.81" y="206.8" width="3.7" height="9.2" fill="#8a8a8a" stroke="#555555" stroke-width="0.8"/>
<rect x="559.21" y="195.6" width="3.7" height="20.4" fill="#181818" stroke="#000000" stroke-width="0.8"/>
<rect x="572.29" y="195.9" width="3.7" height="20.1" fill="#f0f0f0" stroke="#999999" stroke-width="0.8"/>
<rect x="577.69" y="197.8" width="3.7" height="18.2" fill="#8a8a8a" stroke="#555555" stroke-width="0.8"/>
<rect x="583.09" y="191.6" width="3.7" height="24.4" fill="#181818" stroke="#000000" stroke-width="0.8"/>
<rect x="596.17" y="189.2" width="3.7" height="26.8" fill="#f0f0f0" stroke="#999999" stroke-width="0.8"/>
<rect x="606.97" y="211.1" width="3.7" height="4.9" fill="#181818" stroke="#000000" stroke-width="0.8"/>
</g>
<rect x="496.2" y="169.68" width="118.75" height="46.32" fill="none" stroke="#8a8a8a" stroke-width="0.9"/>
<path d="M507.9 216v-1.2M507.9 169.68v1.2" stroke="#8a8a8a" stroke-width="0.7"/>
<path d="M531.78 216v-1.2M531.78 169.68v1.2" stroke="#8a8a8a" stroke-width="0.7"/>
<path d="M555.66 216v-1.2M555.66 169.68v1.2" stroke="#8a8a8a" stroke-width="0.7"/>
<path d="M579.54 216v-1.2M579.54 169.68v1.2" stroke="#8a8a8a" stroke-width="0.7"/>
<path d="M603.42 216v-1.2M603.42 169.68v1.2" stroke="#8a8a8a" stroke-width="0.7"/>
<path d="M496.2 169.68h1.2M614.95 169.68h-1.2" stroke="#8a8a8a" stroke-width="0.7"/>
<text transform="translate(493 172.65) scale(1.205 1)" font-size="7.6" text-anchor="end" fill="#000" stroke="#000" stroke-width="0.35">0.4</text>
<path d="M496.2 192.84h1.2M614.95 192.84h-1.2" stroke="#8a8a8a" stroke-width="0.7"/>
<text transform="translate(493 195.85) scale(1.205 1)" font-size="7.6" text-anchor="end" fill="#000" stroke="#000" stroke-width="0.35">0.2</text>
<path d="M496.2 216h1.2M614.95 216h-1.2" stroke="#8a8a8a" stroke-width="0.7"/>
<text transform="translate(493 218.85) scale(1.205 1)" font-size="7.6" text-anchor="end" fill="#000" stroke="#000" stroke-width="0.35">0</text>
<text transform="translate(505.4 227) scale(1.31 1)" font-size="7" text-anchor="middle" fill="#000" stroke="#000" stroke-width="0.35">0</text>
<text transform="translate(530.38 227) scale(1.31 1)" font-size="7" text-anchor="middle" fill="#000" stroke="#000" stroke-width="0.35">45</text>
<text transform="translate(554.16 227) scale(1.31 1)" font-size="7" text-anchor="middle" fill="#000" stroke="#000" stroke-width="0.35">90</text>
<text transform="translate(579.74 227) scale(1.31 1)" font-size="7" text-anchor="middle" fill="#000" stroke="#000" stroke-width="0.35">135</text><rect x="571.91" y="225.54" width="2.05" height="2.64" fill="#fff"/><rect x="575.76" y="225.54" width="1.35" height="2.64" fill="#fff"/>
<text transform="translate(603.72 227) scale(1.31 1)" font-size="7" text-anchor="middle" fill="#000" stroke="#000" stroke-width="0.35">180</text><rect x="595.89" y="225.54" width="2.05" height="2.64" fill="#fff"/><rect x="599.74" y="225.54" width="1.44" height="2.64" fill="#fff"/>
<text transform="translate(555.73 240.8) scale(1.21 1)" font-size="9.7" text-anchor="middle" fill="#000" stroke="#000" stroke-width="0.35">M34</text>
<clipPath id="cM41"><rect x="26.3" y="252.33" width="118.75" height="46.52"/></clipPath>
<g clip-path="url(#cM41)">
<line x1="26.3" y1="257.49" x2="145.05" y2="257.49" stroke="#8a8a8a" stroke-width="0.9"/>
<rect x="30.55" y="257.49" width="3.7" height="13.41" fill="#f0f0f0" stroke="#999999" stroke-width="0.8"/>
<rect x="35.95" y="257.49" width="3.7" height="1.11" fill="#8a8a8a" stroke="#555555" stroke-width="0.8"/>
<rect x="41.35" y="257.49" width="3.7" height="20.21" fill="#181818" stroke="#000000" stroke-width="0.8"/>
<rect x="54.43" y="257.49" width="3.7" height="3.41" fill="#f0f0f0" stroke="#999999" stroke-width="0.8"/>
<rect x="59.83" y="257.49" width="3.7" height="12.11" fill="#8a8a8a" stroke="#555555" stroke-width="0.8"/>
<rect x="65.23" y="257.49" width="3.7" height="24.11" fill="#181818" stroke="#000000" stroke-width="0.8"/>
<rect x="78.31" y="257.49" width="3.7" height="33.91" fill="#f0f0f0" stroke="#999999" stroke-width="0.8"/>
<rect x="83.71" y="253.2" width="3.7" height="4.29" fill="#8a8a8a" stroke="#555555" stroke-width="0.8"/>
<rect x="89.11" y="257.49" width="3.7" height="12.11" fill="#181818" stroke="#000000" stroke-width="0.8"/>
<rect x="102.19" y="257.49" width="3.7" height="43.36" fill="#f0f0f0" stroke="#999999" stroke-width="0.8"/>
<rect x="107.59" y="255" width="3.7" height="2.49" fill="#8a8a8a" stroke="#555555" stroke-width="0.8"/>
<rect x="112.99" y="257.49" width="3.7" height="5.21" fill="#181818" stroke="#000000" stroke-width="0.8"/>
<rect x="126.07" y="257.49" width="3.7" height="13.41" fill="#f0f0f0" stroke="#999999" stroke-width="0.8"/>
<rect x="131.47" y="257.49" width="3.7" height="5.71" fill="#8a8a8a" stroke="#555555" stroke-width="0.8"/>
<rect x="136.87" y="257.49" width="3.7" height="17.71" fill="#181818" stroke="#000000" stroke-width="0.8"/>
</g>
<rect x="26.3" y="252.33" width="118.75" height="46.52" fill="none" stroke="#8a8a8a" stroke-width="0.9"/>
<path d="M37.8 298.85v-1.2M37.8 252.33v1.2" stroke="#8a8a8a" stroke-width="0.7"/>
<path d="M61.68 298.85v-1.2M61.68 252.33v1.2" stroke="#8a8a8a" stroke-width="0.7"/>
<path d="M85.56 298.85v-1.2M85.56 252.33v1.2" stroke="#8a8a8a" stroke-width="0.7"/>
<path d="M109.44 298.85v-1.2M109.44 252.33v1.2" stroke="#8a8a8a" stroke-width="0.7"/>
<path d="M133.32 298.85v-1.2M133.32 252.33v1.2" stroke="#8a8a8a" stroke-width="0.7"/>
<path d="M26.3 257.49h1.2M145.05 257.49h-1.2" stroke="#8a8a8a" stroke-width="0.7"/>
<text transform="translate(23.2 260.75) scale(1.205 1)" font-size="7.6" text-anchor="end" fill="#000" stroke="#000" stroke-width="0.35">0</text>
<path d="M26.3 275.39h1.2M145.05 275.39h-1.2" stroke="#8a8a8a" stroke-width="0.7"/>
<text transform="translate(23.2 278.35) scale(1.205 1)" font-size="7.6" text-anchor="end" fill="#000" stroke="#000" stroke-width="0.35">-<tspan dx="0.8">0.05</tspan></text>
<path d="M26.3 293.3h1.2M145.05 293.3h-1.2" stroke="#8a8a8a" stroke-width="0.7"/>
<text transform="translate(23.2 296.65) scale(1.205 1)" font-size="7.6" text-anchor="end" fill="#000" stroke="#000" stroke-width="0.35">-<tspan dx="0.8">0.1</tspan></text><rect x="17.94" y="295.13" width="2.04" height="2.72" fill="#fff"/><rect x="21.76" y="295.13" width="1.78" height="2.72" fill="#fff"/>
<text transform="translate(35.3 309.85) scale(1.31 1)" font-size="7" text-anchor="middle" fill="#000" stroke="#000" stroke-width="0.35">0</text>
<text transform="translate(60.28 309.85) scale(1.31 1)" font-size="7" text-anchor="middle" fill="#000" stroke="#000" stroke-width="0.35">45</text>
<text transform="translate(84.06 309.85) scale(1.31 1)" font-size="7" text-anchor="middle" fill="#000" stroke="#000" stroke-width="0.35">90</text>
<text transform="translate(109.64 309.85) scale(1.31 1)" font-size="7" text-anchor="middle" fill="#000" stroke="#000" stroke-width="0.35">135</text><rect x="101.81" y="308.39" width="2.05" height="2.64" fill="#fff"/><rect x="105.66" y="308.39" width="1.35" height="2.64" fill="#fff"/>
<text transform="translate(133.62 309.85) scale(1.31 1)" font-size="7" text-anchor="middle" fill="#000" stroke="#000" stroke-width="0.35">180</text><rect x="125.79" y="308.39" width="2.05" height="2.64" fill="#fff"/><rect x="129.64" y="308.39" width="1.44" height="2.64" fill="#fff"/>
<text transform="translate(85.83 323.65) scale(1.21 1)" font-size="9.7" text-anchor="middle" fill="#000" stroke="#000" stroke-width="0.35">M41</text><rect x="90.66" y="321.91" width="2.52" height="3.00" fill="#fff"/><rect x="95.33" y="321.91" width="2.22" height="3.00" fill="#fff"/>
<clipPath id="cM42"><rect x="183.2" y="252.33" width="118.75" height="46.52"/></clipPath>
<g clip-path="url(#cM42)">
<rect x="187.45" y="252.33" width="3.7" height="19.77" fill="#f0f0f0" stroke="#999999" stroke-width="0.8"/>
<rect x="192.85" y="252.33" width="3.7" height="12.07" fill="#8a8a8a" stroke="#555555" stroke-width="0.8"/>
<rect x="198.25" y="252.33" width="3.7" height="28.47" fill="#181818" stroke="#000000" stroke-width="0.8"/>
<rect x="211.33" y="252.33" width="3.7" height="48.52" fill="#f0f0f0" stroke="#999999" stroke-width="0.8"/>
<rect x="216.73" y="252.33" width="3.7" height="14.97" fill="#8a8a8a" stroke="#555555" stroke-width="0.8"/>
<rect x="222.13" y="252.33" width="3.7" height="18.07" fill="#181818" stroke="#000000" stroke-width="0.8"/>
<rect x="235.21" y="252.33" width="3.7" height="37.07" fill="#f0f0f0" stroke="#999999" stroke-width="0.8"/>
<rect x="240.61" y="252.33" width="3.7" height="6.37" fill="#8a8a8a" stroke="#555555" stroke-width="0.8"/>
<rect x="246.01" y="252.33" width="3.7" height="15.47" fill="#181818" stroke="#000000" stroke-width="0.8"/>
<rect x="259.09" y="252.33" width="3.7" height="1.67" fill="#f0f0f0" stroke="#999999" stroke-width="0.8"/>
<rect x="264.49" y="252.33" width="3.7" height="5.97" fill="#8a8a8a" stroke="#555555" stroke-width="0.8"/>
<rect x="269.89" y="252.33" width="3.7" height="20.67" fill="#181818" stroke="#000000" stroke-width="0.8"/>
<rect x="282.97" y="252.33" width="3.7" height="13.77" fill="#f0f0f0" stroke="#999999" stroke-width="0.8"/>
<rect x="288.37" y="252.33" width="3.7" height="19.77" fill="#8a8a8a" stroke="#555555" stroke-width="0.8"/>
<rect x="293.77" y="252.33" width="3.7" height="24.67" fill="#181818" stroke="#000000" stroke-width="0.8"/>
</g>
<rect x="183.2" y="252.33" width="118.75" height="46.52" fill="none" stroke="#8a8a8a" stroke-width="0.9"/>
<path d="M194.7 298.85v-1.2M194.7 252.33v1.2" stroke="#8a8a8a" stroke-width="0.7"/>
<path d="M218.58 298.85v-1.2M218.58 252.33v1.2" stroke="#8a8a8a" stroke-width="0.7"/>
<path d="M242.46 298.85v-1.2M242.46 252.33v1.2" stroke="#8a8a8a" stroke-width="0.7"/>
<path d="M266.34 298.85v-1.2M266.34 252.33v1.2" stroke="#8a8a8a" stroke-width="0.7"/>
<path d="M290.22 298.85v-1.2M290.22 252.33v1.2" stroke="#8a8a8a" stroke-width="0.7"/>
<path d="M183.2 252.33h1.2M301.95 252.33h-1.2" stroke="#8a8a8a" stroke-width="0.7"/>
<text transform="translate(180 255.25) scale(1.205 1)" font-size="7.6" text-anchor="end" fill="#000" stroke="#000" stroke-width="0.35">0</text>
<path d="M183.2 271.71h1.2M301.95 271.71h-1.2" stroke="#8a8a8a" stroke-width="0.7"/>
<text transform="translate(180 274.55) scale(1.205 1)" font-size="7.6" text-anchor="end" fill="#000" stroke="#000" stroke-width="0.35">-<tspan dx="0.8">0.1</tspan></text><rect x="174.74" y="273.03" width="2.04" height="2.72" fill="#fff"/><rect x="178.56" y="273.03" width="1.78" height="2.72" fill="#fff"/>
<path d="M183.2 291.1h1.2M301.95 291.1h-1.2" stroke="#8a8a8a" stroke-width="0.7"/>
<text transform="translate(180 293.85) scale(1.205 1)" font-size="7.6" text-anchor="end" fill="#000" stroke="#000" stroke-width="0.35">-<tspan dx="0.8">0.2</tspan></text>
<text transform="translate(192.2 309.85) scale(1.31 1)" font-size="7" text-anchor="middle" fill="#000" stroke="#000" stroke-width="0.35">0</text>
<text transform="translate(217.18 309.85) scale(1.31 1)" font-size="7" text-anchor="middle" fill="#000" stroke="#000" stroke-width="0.35">45</text>
<text transform="translate(240.96 309.85) scale(1.31 1)" font-size="7" text-anchor="middle" fill="#000" stroke="#000" stroke-width="0.35">90</text>
<text transform="translate(266.54 309.85) scale(1.31 1)" font-size="7" text-anchor="middle" fill="#000" stroke="#000" stroke-width="0.35">135</text><rect x="258.71" y="308.39" width="2.05" height="2.64" fill="#fff"/><rect x="262.56" y="308.39" width="1.35" height="2.64" fill="#fff"/>
<text transform="translate(290.52 309.85) scale(1.31 1)" font-size="7" text-anchor="middle" fill="#000" stroke="#000" stroke-width="0.35">180</text><rect x="282.69" y="308.39" width="2.05" height="2.64" fill="#fff"/><rect x="286.54" y="308.39" width="1.44" height="2.64" fill="#fff"/>
<text transform="translate(242.72 323.65) scale(1.21 1)" font-size="9.7" text-anchor="middle" fill="#000" stroke="#000" stroke-width="0.35">M42</text>
<clipPath id="cM43"><rect x="339.46" y="252.33" width="118.75" height="46.52"/></clipPath>
<g clip-path="url(#cM43)">
<line x1="339.46" y1="260.6" x2="458.21" y2="260.6" stroke="#8a8a8a" stroke-width="0.9"/>
<rect x="343.55" y="260.6" width="3.7" height="34" fill="#f0f0f0" stroke="#999999" stroke-width="0.8"/>
<rect x="348.95" y="260.6" width="3.7" height="11.2" fill="#8a8a8a" stroke="#555555" stroke-width="0.8"/>
<rect x="354.35" y="260.6" width="3.7" height="14.1" fill="#181818" stroke="#000000" stroke-width="0.8"/>
<rect x="367.43" y="250.73" width="3.7" height="9.87" fill="#f0f0f0" stroke="#999999" stroke-width="0.8"/>
<rect x="372.83" y="260.6" width="3.7" height="3.3" fill="#8a8a8a" stroke="#555555" stroke-width="0.8"/>
<rect x="378.23" y="260.6" width="3.7" height="9.8" fill="#181818" stroke="#000000" stroke-width="0.8"/>
<rect x="391.31" y="260.6" width="3.7" height="6" fill="#f0f0f0" stroke="#999999" stroke-width="0.8"/>
<rect x="396.71" y="259.6" width="3.7" height="1" fill="#8a8a8a" stroke="#555555" stroke-width="0.8"/>
<rect x="402.11" y="260.6" width="3.7" height="7.7" fill="#181818" stroke="#000000" stroke-width="0.8"/>
<rect x="415.19" y="260.6" width="3.7" height="13.3" fill="#f0f0f0" stroke="#999999" stroke-width="0.8"/>
<rect x="420.59" y="255.3" width="3.7" height="5.3" fill="#8a8a8a" stroke="#555555" stroke-width="0.8"/>
<rect x="425.99" y="258.4" width="3.7" height="2.2" fill="#181818" stroke="#000000" stroke-width="0.8"/>
<rect x="439.07" y="260.6" width="3.7" height="29.6" fill="#f0f0f0" stroke="#999999" stroke-width="0.8"/>
<rect x="444.47" y="260.6" width="3.7" height="15.5" fill="#8a8a8a" stroke="#555555" stroke-width="0.8"/>
<rect x="449.87" y="260.6" width="3.7" height="11.5" fill="#181818" stroke="#000000" stroke-width="0.8"/>
</g>
<rect x="339.46" y="252.33" width="118.75" height="46.52" fill="none" stroke="#8a8a8a" stroke-width="0.9"/>
<path d="M350.8 298.85v-1.2M350.8 252.33v1.2" stroke="#8a8a8a" stroke-width="0.7"/>
<path d="M374.68 298.85v-1.2M374.68 252.33v1.2" stroke="#8a8a8a" stroke-width="0.7"/>
<path d="M398.56 298.85v-1.2M398.56 252.33v1.2" stroke="#8a8a8a" stroke-width="0.7"/>
<path d="M422.44 298.85v-1.2M422.44 252.33v1.2" stroke="#8a8a8a" stroke-width="0.7"/>
<path d="M446.32 298.85v-1.2M446.32 252.33v1.2" stroke="#8a8a8a" stroke-width="0.7"/>
<path d="M339.46 260.6h1.2M458.21 260.6h-1.2" stroke="#8a8a8a" stroke-width="0.7"/>
<text transform="translate(336.66 263.35) scale(1.205 1)" font-size="7.6" text-anchor="end" fill="#000" stroke="#000" stroke-width="0.35">0</text>
<path d="M339.46 279.82h1.2M458.21 279.82h-1.2" stroke="#8a8a8a" stroke-width="0.7"/>
<text transform="translate(336.66 282.85) scale(1.205 1)" font-size="7.6" text-anchor="end" fill="#000" stroke="#000" stroke-width="0.35">-<tspan dx="0.8">0.1</tspan></text><rect x="331.40" y="281.33" width="2.04" height="2.72" fill="#fff"/><rect x="335.22" y="281.33" width="1.78" height="2.72" fill="#fff"/>
<path d="M339.46 299.04h1.2M458.21 299.04h-1.2" stroke="#8a8a8a" stroke-width="0.7"/>
<text transform="translate(336.66 301.85) scale(1.205 1)" font-size="7.6" text-anchor="end" fill="#000" stroke="#000" stroke-width="0.35">-<tspan dx="0.8">0.2</tspan></text>
<text transform="translate(348.3 309.85) scale(1.31 1)" font-size="7" text-anchor="middle" fill="#000" stroke="#000" stroke-width="0.35">0</text>
<text transform="translate(373.28 309.85) scale(1.31 1)" font-size="7" text-anchor="middle" fill="#000" stroke="#000" stroke-width="0.35">45</text>
<text transform="translate(397.06 309.85) scale(1.31 1)" font-size="7" text-anchor="middle" fill="#000" stroke="#000" stroke-width="0.35">90</text>
<text transform="translate(422.64 309.85) scale(1.31 1)" font-size="7" text-anchor="middle" fill="#000" stroke="#000" stroke-width="0.35">135</text><rect x="414.81" y="308.39" width="2.05" height="2.64" fill="#fff"/><rect x="418.66" y="308.39" width="1.35" height="2.64" fill="#fff"/>
<text transform="translate(446.62 309.85) scale(1.31 1)" font-size="7" text-anchor="middle" fill="#000" stroke="#000" stroke-width="0.35">180</text><rect x="438.79" y="308.39" width="2.05" height="2.64" fill="#fff"/><rect x="442.64" y="308.39" width="1.44" height="2.64" fill="#fff"/>
<text transform="translate(398.98 323.65) scale(1.21 1)" font-size="9.7" text-anchor="middle" fill="#000" stroke="#000" stroke-width="0.35">M43</text>
<clipPath id="cM44"><rect x="496.2" y="252.33" width="118.75" height="46.52"/></clipPath>
<g clip-path="url(#cM44)">
<line x1="496.2" y1="295.54" x2="614.95" y2="295.54" stroke="#8a8a8a" stroke-width="0.9"/>
<rect x="500.65" y="258.7" width="3.7" height="36.84" fill="#f0f0f0" stroke="#999999" stroke-width="0.8"/>
<rect x="506.05" y="286.3" width="3.7" height="9.24" fill="#8a8a8a" stroke="#555555" stroke-width="0.8"/>
<rect x="511.45" y="267.7" width="3.7" height="27.84" fill="#181818" stroke="#000000" stroke-width="0.8"/>
<rect x="524.53" y="258.7" width="3.7" height="36.84" fill="#f0f0f0" stroke="#999999" stroke-width="0.8"/>
<rect x="529.93" y="280.3" width="3.7" height="15.24" fill="#8a8a8a" stroke="#555555" stroke-width="0.8"/>
<rect x="535.33" y="265.1" width="3.7" height="30.44" fill="#181818" stroke="#000000" stroke-width="0.8"/>
<rect x="548.41" y="250.73" width="3.7" height="44.81" fill="#f0f0f0" stroke="#999999" stroke-width="0.8"/>
<rect x="553.81" y="295.54" width="3.7" height="5.31" fill="#8a8a8a" stroke="#555555" stroke-width="0.8"/>
<rect x="559.21" y="273.9" width="3.7" height="21.64" fill="#181818" stroke="#000000" stroke-width="0.8"/>
<rect x="572.29" y="253.6" width="3.7" height="41.94" fill="#f0f0f0" stroke="#999999" stroke-width="0.8"/>
<rect x="577.69" y="290.6" width="3.7" height="4.94" fill="#8a8a8a" stroke="#555555" stroke-width="0.8"/>
<rect x="583.09" y="275.6" width="3.7" height="19.94" fill="#181818" stroke="#000000" stroke-width="0.8"/>
<rect x="596.17" y="264.3" width="3.7" height="31.24" fill="#f0f0f0" stroke="#999999" stroke-width="0.8"/>
<rect x="601.57" y="285.5" width="3.7" height="10.04" fill="#8a8a8a" stroke="#555555" stroke-width="0.8"/>
<rect x="606.97" y="272.5" width="3.7" height="23.04" fill="#181818" stroke="#000000" stroke-width="0.8"/>
</g>
<rect x="496.2" y="252.33" width="118.75" height="46.52" fill="none" stroke="#8a8a8a" stroke-width="0.9"/>
<path d="M507.9 298.85v-1.2M507.9 252.33v1.2" stroke="#8a8a8a" stroke-width="0.7"/>
<path d="M531.78 298.85v-1.2M531.78 252.33v1.2" stroke="#8a8a8a" stroke-width="0.7"/>
<path d="M555.66 298.85v-1.2M555.66 252.33v1.2" stroke="#8a8a8a" stroke-width="0.7"/>
<path d="M579.54 298.85v-1.2M579.54 252.33v1.2" stroke="#8a8a8a" stroke-width="0.7"/>
<path d="M603.42 298.85v-1.2M603.42 252.33v1.2" stroke="#8a8a8a" stroke-width="0.7"/>
<path d="M496.2 254.19h1.2M614.95 254.19h-1.2" stroke="#8a8a8a" stroke-width="0.7"/>
<text transform="translate(493 257.65) scale(1.205 1)" font-size="7.6" text-anchor="end" fill="#000" stroke="#000" stroke-width="0.35">0.2</text>
<path d="M496.2 274.87h1.2M614.95 274.87h-1.2" stroke="#8a8a8a" stroke-width="0.7"/>
<text transform="translate(493 278.05) scale(1.205 1)" font-size="7.6" text-anchor="end" fill="#000" stroke="#000" stroke-width="0.35">0.1</text><rect x="487.74" y="276.53" width="2.04" height="2.72" fill="#fff"/><rect x="491.56" y="276.53" width="1.78" height="2.72" fill="#fff"/>
<path d="M496.2 295.54h1.2M614.95 295.54h-1.2" stroke="#8a8a8a" stroke-width="0.7"/>
<text transform="translate(493 299.05) scale(1.205 1)" font-size="7.6" text-anchor="end" fill="#000" stroke="#000" stroke-width="0.35">0</text>
<text transform="translate(505.4 309.85) scale(1.31 1)" font-size="7" text-anchor="middle" fill="#000" stroke="#000" stroke-width="0.35">0</text>
<text transform="translate(530.38 309.85) scale(1.31 1)" font-size="7" text-anchor="middle" fill="#000" stroke="#000" stroke-width="0.35">45</text>
<text transform="translate(554.16 309.85) scale(1.31 1)" font-size="7" text-anchor="middle" fill="#000" stroke="#000" stroke-width="0.35">90</text>
<text transform="translate(579.74 309.85) scale(1.31 1)" font-size="7" text-anchor="middle" fill="#000" stroke="#000" stroke-width="0.35">135</text><rect x="571.91" y="308.39" width="2.05" height="2.64" fill="#fff"/><rect x="575.76" y="308.39" width="1.35" height="2.64" fill="#fff"/>
<text transform="translate(603.72 309.85) scale(1.31 1)" font-size="7" text-anchor="middle" fill="#000" stroke="#000" stroke-width="0.35">180</text><rect x="595.89" y="308.39" width="2.05" height="2.64" fill="#fff"/><rect x="599.74" y="308.39" width="1.44" height="2.64" fill="#fff"/>
<text transform="translate(555.73 323.65) scale(1.21 1)" font-size="9.7" text-anchor="middle" fill="#000" stroke="#000" stroke-width="0.35">M44</text>
<rect x="27.5" y="14.95" width="103.6" height="33.6" fill="#fff" stroke="#8a8a8a" stroke-width="0.9"/>
<rect x="29.0" y="17.5" width="15.4" height="7.6" fill="#e2e2e2" stroke="#999999" stroke-width="0.7"/>
<text transform="translate(46.2 23.75) scale(1.19 1)" font-size="7.7" text-anchor="start" fill="#000" stroke="#000" stroke-width="0.35" word-spacing="0.75">at 8 wt% Solution</text>
<rect x="29.0" y="28.2" width="15.4" height="7.6" fill="#8a8a8a" stroke="#555555" stroke-width="0.7"/>
<text transform="translate(46.2 34.8) scale(1.19 1)" font-size="7.7" text-anchor="start" fill="#000" stroke="#000" stroke-width="0.35" word-spacing="0.75">at 12 wt% Solution</text><rect x="57.63" y="33.27" width="2.05" height="2.73" fill="#fff"/><rect x="61.43" y="33.27" width="1.50" height="2.73" fill="#fff"/>
<rect x="29.0" y="39.2" width="15.4" height="7.6" fill="#181818" stroke="#000000" stroke-width="0.7"/>
<text transform="translate(46.2 45.85) scale(1.19 1)" font-size="7.7" text-anchor="start" fill="#000" stroke="#000" stroke-width="0.35" word-spacing="0.75">at 15 wt% Solution</text><rect x="57.63" y="44.32" width="2.05" height="2.73" fill="#fff"/><rect x="61.43" y="44.32" width="1.47" height="2.73" fill="#fff"/>
</svg>
</body></html>
